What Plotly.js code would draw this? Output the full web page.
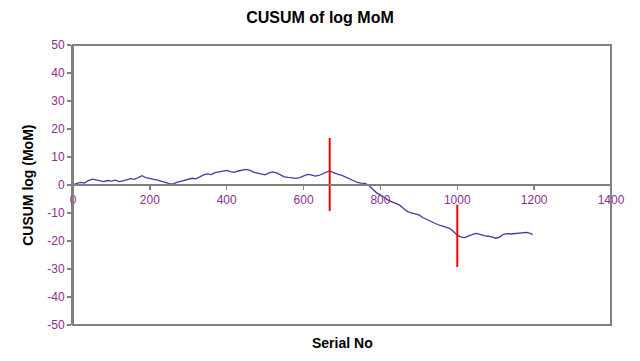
<!DOCTYPE html>
<html>
<head>
<meta charset="utf-8">
<script src="https://cdn.plot.ly/plotly-3.0.1.min.js"></script>
<style>html,body{margin:0;padding:0;background:#fff;}#chart{width:640px;height:361px;}</style>
</head>
<body>
<div id="chart"></div>
<script>
const serialNo = [0,10,20,30,40,50,60,70,80,90,100,110,120,130,140,150,160,170,180,190,200,210,220,230,240,250,260,270,280,290,300,310,320,330,340,350,360,370,380,390,400,410,420,430,440,450,460,470,480,490,500,510,520,530,540,550,560,570,580,590,600,610,620,630,640,650,660,668,675,680,690,700,710,720,730,740,750,760,770,780,790,800,810,820,830,840,850,860,870,880,890,900,910,920,930,940,950,960,970,980,990,1000,1010,1020,1030,1040,1050,1060,1070,1080,1090,1100,1110,1120,1130,1140,1150,1160,1170,1180,1190,1196];
const cusum = [0,0.6,0.9,0.7,1.6,2.1,1.8,1.5,1.2,1.6,1.4,1.7,1.2,1.5,2.0,2.3,2.0,2.8,3.3,2.6,2.4,2.0,1.7,1.4,0.9,0.5,0.3,0.9,1.3,1.5,2.0,2.4,2.2,2.9,3.6,4.0,3.7,4.4,4.6,4.9,5.2,4.8,4.5,5.0,5.3,5.6,5.3,4.6,4.2,3.8,3.6,4.3,4.7,4.3,3.5,2.9,2.7,2.5,2.4,2.6,3.2,3.8,3.6,3.2,3.4,4.0,4.6,5.1,4.6,4.3,3.8,3.4,2.8,2.1,1.6,0.9,0.7,0.6,-0.2,-1.5,-2.8,-3.5,-4.6,-5.4,-6.0,-6.5,-7.2,-8.4,-9.4,-10.0,-10.4,-10.7,-11.6,-12.3,-12.8,-13.6,-14.2,-14.6,-15.0,-15.5,-16.6,-17.9,-18.6,-18.8,-18.2,-17.6,-17.3,-17.8,-18.1,-18.3,-18.5,-19.0,-18.6,-17.6,-17.4,-17.5,-17.3,-17.2,-17.1,-16.9,-17.3,-17.7];
const changeX1 = [668, 668];
const changeY1 = [16.8, -9.3];
const changeX2 = [1000, 1000];
const changeY2 = [-7.0, -29.3];
const xTicks = [0,200,400,600,800,1000,1200,1400];
const yTicks = [-50,-40,-30,-20,-10,0,10,20,30,40,50];

const tickFont = {family: 'Liberation Sans, Arial, sans-serif', size: 12, color: '#8B2F8F'};
const data = [
  {x: serialNo, y: cusum, type: 'scatter', mode: 'lines', line: {color: '#3F3F9F', width: 1.3}, hoverinfo: 'skip'},
  {x: changeX1, y: changeY1, type: 'scatter', mode: 'lines', line: {color: '#FF0000', width: 2}},
  {x: changeX2, y: changeY2, type: 'scatter', mode: 'lines', line: {color: '#FF0000', width: 2}}
];
const layout = {
  width: 640, height: 361,
  margin: {l: 73, r: 29, t: 45, b: 36},
  paper_bgcolor: '#fff', plot_bgcolor: '#fff',
  showlegend: false,
  font: {family: 'Liberation Sans, Arial, sans-serif'},
  title: {text: '<b>CUSUM of log MoM</b>', x: 0.5, xanchor: 'center', y: 0.953, yanchor: 'middle', font: {size: 16, color: '#000', family: 'Liberation Sans, Arial, sans-serif'}},
  xaxis: {range: [0, 1400], tickvals: xTicks, ticktext: xTicks.map(String), anchor: 'free', position: 0.5,
    showline: true, linecolor: '#808080', linewidth: 2, ticks: 'outside', ticklen: 4, tickcolor: '#808080', tickwidth: 1.5,
    showgrid: false, zeroline: false, tickfont: tickFont},
  yaxis: {range: [-50, 50], tickvals: yTicks, ticktext: yTicks.map(String),
    showline: true, linecolor: '#808080', linewidth: 2, ticks: 'outside', ticklen: 4, tickcolor: '#808080', tickwidth: 1.5,
    showgrid: false, zeroline: false, tickfont: tickFont},
  shapes: [{type: 'rect', xref: 'paper', yref: 'paper', x0: 0, x1: 1, y0: 0, y1: 1, line: {color: '#808080', width: 2}}],
  annotations: [
    {text: '<b>Serial No</b>', xref: 'paper', yref: 'paper', x: 0.5, y: -0.065, xanchor: 'center', yanchor: 'middle', showarrow: false, font: {size: 14, color: '#000'}},
    {text: '<b>CUSUM log (MoM)</b>', xref: 'paper', yref: 'paper', x: -0.084, y: 0.5, xanchor: 'center', yanchor: 'middle', textangle: -90, showarrow: false, font: {size: 14, color: '#000'}}
  ]
};
Plotly.newPlot('chart', data, layout, {staticPlot: true, displayModeBar: false});
</script>
</body>
</html>
